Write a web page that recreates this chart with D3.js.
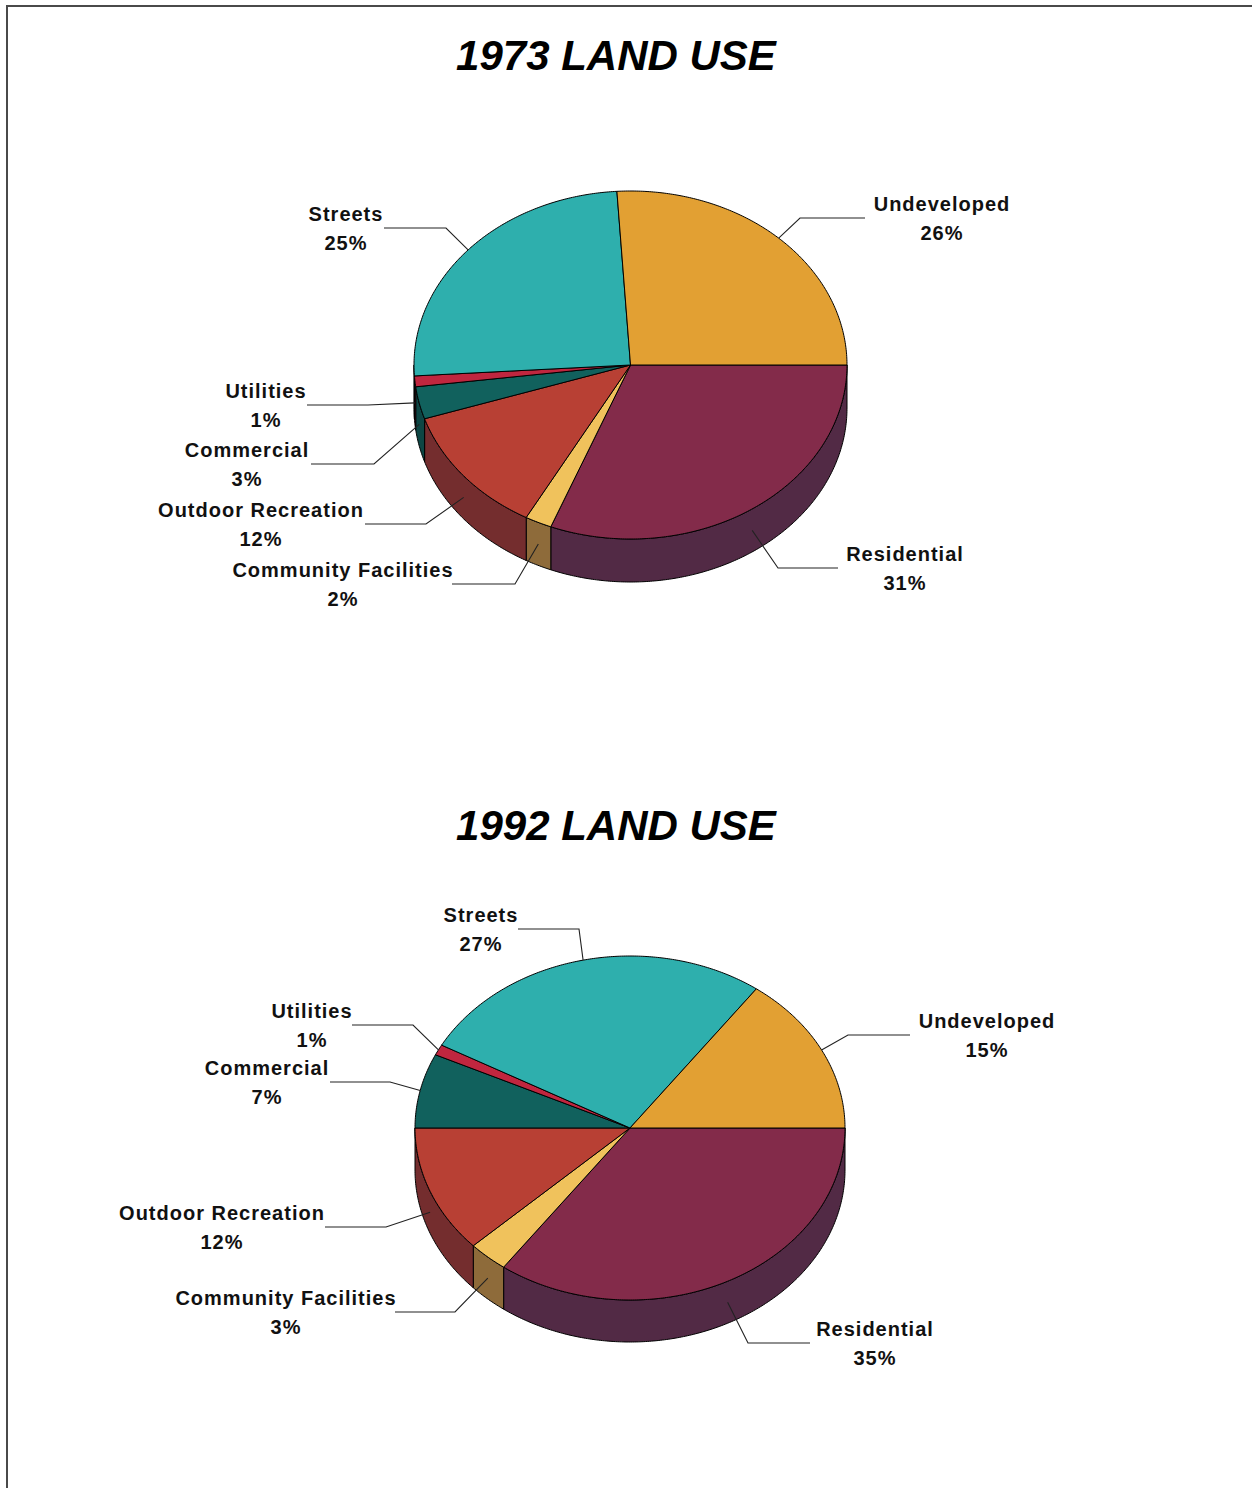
<!DOCTYPE html>
<html>
<head>
<meta charset="utf-8">
<script src="https://cdn.jsdelivr.net/npm/d3@7"></script>
<style>
  html, body { margin: 0; padding: 0; background: #fff; }
  svg { display: block; }
  .title { font-family: "Liberation Sans", Arial, sans-serif; font-weight: bold; font-style: italic; font-size: 42px; fill: #000; }
  .lbl { font-family: "Liberation Sans", Arial, sans-serif; font-weight: bold; font-size: 20px; letter-spacing: 1px; fill: #111; }
</style>
</head>
<body>
<script>
// Land use categories, listed clockwise starting at 3 o'clock
const categories = ["Residential", "Community Facilities", "Outdoor Recreation", "Commercial", "Utilities", "Streets", "Undeveloped"];
const share1973 = [31, 2, 12, 3, 1, 25, 26];
const share1992 = [35, 3, 12, 7, 1, 27, 15];
const topColors  = ["#832B4A", "#F0C25C", "#B84034", "#11615D", "#C0263F", "#2EAFAD", "#E2A033"];
const sideColors = ["#522A45", "#8E6B3A", "#742D2E", "#0D4644", "#7E1B2C", "#1E7574", "#8A6220"];

// Label placement: [elbowX, elbowY, lineEndX, textCenterX] per category
const labels1973 = [[778,568,838,905],[515,584,452,343],[426,524,365,261],[374,464,311,247],[368,405,307,266],[446,228,384,346],[800,218,865,942]];
const labels1992 = [[748,1343,810,875],[455,1312,395,286],[386,1227,325,222],[390,1082,330,267],[413,1025,352,312],[579,929,518,481],[848,1035,910,987]];

const charts = [
  { title: "1973 LAND USE", values: share1973, labels: labels1973, titleY: 70,  cx: 630.5, cy: 365,  rx: 216.5, ry: 174, depth: 43 },
  { title: "1992 LAND USE", values: share1992, labels: labels1992, titleY: 840, cx: 630,   cy: 1128, rx: 215,   ry: 172, depth: 42 }
];

const W = 1252, H = 1488;
const svg = d3.select("body").append("svg").attr("width", W).attr("height", H);

// page frame (top and left edges)
svg.append("path").attr("d", `M7,${H} V6 H${W}`).attr("fill", "none").attr("stroke", "#4a4a4a").attr("stroke-width", 2);

const pie = d3.pie().sort(null).startAngle(Math.PI / 2).endAngle(Math.PI / 2 + 2 * Math.PI);
const line = d3.line();

charts.forEach(c => {
  const g = svg.append("g");
  g.append("text").attr("class", "title").attr("x", 616).attr("y", c.titleY)
    .attr("text-anchor", "middle").text(c.title);

  const pt = (a, dy = 0) => [c.cx + c.rx * Math.sin(a), c.cy - c.ry * Math.cos(a) + dy];
  const arcPts = (a0, a1, dy = 0) => {
    const n = Math.max(2, Math.ceil((a1 - a0) / 0.01));
    return d3.range(n + 1).map(i => pt(a0 + (a1 - a0) * i / n, dy));
  };

  const arcs = pie(c.values).map((d, i) => Object.assign(d, { i }));

  // outer walls on the front half
  const front0 = Math.PI / 2, front1 = 3 * Math.PI / 2;
  arcs.forEach(d => {
    const a0 = Math.max(d.startAngle, front0), a1 = Math.min(d.endAngle, front1);
    if (a1 <= a0) return;
    const topEdge = arcPts(a0, a1);
    const botEdge = arcPts(a0, a1, c.depth).reverse();
    g.append("path").attr("d", line(topEdge.concat(botEdge)) + "Z")
      .attr("fill", sideColors[d.i]).attr("stroke", "#000").attr("stroke-width", 1)
      .attr("stroke-linejoin", "round");
  });

  // top faces
  arcs.forEach(d => {
    const pts = [[c.cx, c.cy]].concat(arcPts(d.startAngle, d.endAngle));
    g.append("path").attr("d", line(pts) + "Z")
      .attr("fill", topColors[d.i]).attr("stroke", "#000").attr("stroke-width", 1)
      .attr("stroke-linejoin", "round");
  });

  // leader lines and labels
  arcs.forEach(d => {
    const [ex, ey, lx, tx] = c.labels[d.i];
    const mid = (d.startAngle + d.endAngle) / 2;
    const onFront = -Math.cos(mid) > 0;
    const anchor = pt(mid, onFront ? c.depth * 0.5 : 0);
    g.append("path").attr("d", line([anchor, [ex, ey], [lx, ey]]))
      .attr("fill", "none").attr("stroke", "#222").attr("stroke-width", 1.1);
    const t = g.append("text").attr("class", "lbl").attr("text-anchor", "middle");
    t.append("tspan").attr("x", tx).attr("y", ey - 7).text(categories[d.i]);
    t.append("tspan").attr("x", tx).attr("y", ey + 22).text(d.data + "%");
  });
});
</script>
</body>
</html>
